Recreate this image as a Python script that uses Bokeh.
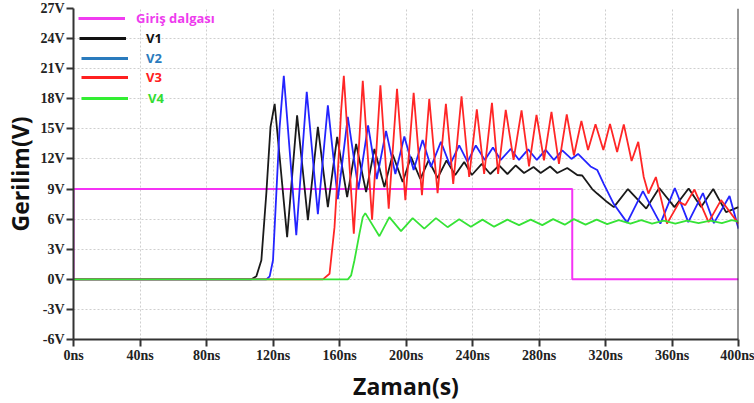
from bokeh.plotting import figure
from bokeh.models import Legend, LegendItem, FixedTicker, PrintfTickFormatter, Span, Range1d, Title
from bokeh.embed import file_html
from bokeh.resources import INLINE

# ---- data (time in ns, voltage in V) ----
x_ticks = [0, 40, 80, 120, 160, 200, 240, 280, 320, 360, 400]
y_ticks = [-6, -3, 0, 3, 6, 9, 12, 15, 18, 21, 24, 27]

giris_t = [0, 0, 300, 300, 400]
giris_v = [0, 9, 9, 0, 0]

v1_points = [(0, 0), (107, 0), (110, 0.3), (113, 1.9), (116, 8.6), (118.5, 15.2), (121, 17.5),
             (128.5, 4.2), (134.5, 16.35), (141, 5.9), (147, 15.2), (153, 7.2), (158.6, 14.2),
             (164.6, 8.2), (170, 13.5), (176, 8.7), (181, 13.0), (187, 9.2), (192, 12.45),
             (198, 9.7), (203, 12.2), (208.6, 10.0), (213.6, 11.85), (219, 10.1), (224.4, 11.85),
             (229.6, 10.4), (235, 11.7), (239.6, 10.4), (245.6, 11.5), (250.7, 10.5), (256, 11.35),
             (261, 10.5), (266, 11.35), (271, 10.6), (276.7, 11.2), (281, 10.6), (286.7, 11.25),
             (291, 10.6), (297, 11.1), (303, 10.4), (306, 10.35), (312, 9.0), (315, 8.55),
             (321, 7.7), (325, 7.2), (333.5, 9.0), (344.5, 7.05), (352.3, 9.1), (361.5, 7.2),
             (370, 9.05), (377.5, 7.2), (384.8, 9.0), (392.5, 6.7), (400, 7.2)]

v2_points = [(0, 0), (116, 0), (118, 0.3), (120, 1.9), (122, 8.55), (124, 15.2), (126.5, 20.3),
             (134, 4.4), (140.3, 18.7), (147, 6.5), (153, 17.35), (159, 8.0), (165, 16.2),
             (171.4, 9.0), (177.2, 15.35), (182.4, 10.0), (188, 14.8), (193.6, 10.5), (199, 14.25),
             (204.6, 10.9), (210, 13.9), (215, 11.2), (221, 13.7), (226.4, 11.4), (232, 13.35),
             (237, 11.7), (242, 13.35), (247.4, 11.9), (252.3, 13.15), (257, 11.9), (263, 13.0),
             (268, 11.9), (273.5, 12.95), (278.7, 11.9), (284, 12.9), (289, 11.9), (294, 12.85),
             (299.5, 12.0), (303.5, 12.5), (311, 11.25), (315, 10.9), (319, 9.5), (325, 7.5),
             (333, 5.65), (342.5, 8.8), (353, 5.55), (361.7, 9.1), (369.8, 5.7), (378.6, 8.6),
             (385.2, 5.6), (394.6, 8.3), (400, 5.05)]

v3_points = [(0, 0), (150, 0), (154, 0.55), (157, 5.2), (159.4, 11.9), (161, 16.85), (162.6, 20.3),
             (168.6, 4.55), (174, 19.8), (179.6, 5.95), (184.6, 19.35), (189.6, 7.05), (194.6, 19.0),
             (199.6, 7.9), (204.6, 18.6), (209.6, 8.4), (214, 18.0), (219, 8.6), (224, 17.5),
             (228.4, 9.5), (233.4, 18.25), (238, 10.2), (242.6, 16.95), (247, 10.5), (251.7, 17.6),
             (255.4, 10.5), (260, 16.9), (264.7, 11.9), (269.5, 16.85), (274, 11.25), (278.5, 16.4),
             (283, 11.85), (287.5, 16.7), (292, 11.5), (296.7, 16.45), (301, 12.35), (305.5, 15.8),
             (309.5, 12.9), (314, 15.45), (318.7, 12.9), (322.7, 15.5), (327, 12.7), (331, 15.45),
             (335.7, 11.8), (339.7, 13.7), (343, 10.2), (345.8, 8.55), (350.3, 10.2), (357, 5.55),
             (364.4, 7.7), (368, 7.4), (373.5, 8.95), (382, 5.7), (389.5, 7.9), (400, 5.55)]

v4_points = [(0, 0), (165, 0), (167, 0.4), (169, 1.9), (172, 4.55), (174, 6.2), (175.5, 6.6),
             (184, 4.3), (190, 6.2), (197, 4.8), (204, 6.1), (211, 5.05), (218, 6.1), (225, 5.2),
             (232, 6.0), (239, 5.25), (246, 5.95), (253, 5.25), (261, 5.95), (268, 5.4), (275, 5.95),
             (282, 5.4), (288.5, 6.0), (295.5, 5.45), (301, 6.0), (308, 5.45), (314.7, 5.95),
             (321, 5.5), (328, 5.9), (335, 5.55), (341.5, 5.9), (348, 5.55), (355, 5.85), (362, 5.55),
             (369, 5.85), (376, 5.6), (383, 5.85), (390, 5.6), (396, 5.9), (400, 5.75)]

legend_labels = ["Giriş dalgası", "V1", "V2", "V3", "V4"]

# ---- styling ----
C_MAG = "#f533f5"
C_V1 = "#1a1a1a"
C_V2 = "#2424ff"
C_V3 = "#ff2626"
C_V4 = "#36e336"
LEG_LINE = ["#f03cf0", "#111111", "#2a7bbd", "#ff2020", "#33ee33"]
LEG_TEXT = ["#ee3cee", "#111111", "#2a7bbd", "#ff2020", "#33dd33"]

LEFT, RIGHT, TOP, BOTTOM = 72, 16, 8, 64
W, H = 754, 403
FRAME_H = H - TOP - BOTTOM

p = figure(width=W, height=H, x_range=Range1d(0, 400), y_range=Range1d(-6, 27),
           output_backend="svg", toolbar_location=None,
           min_border_left=LEFT, min_border_right=RIGHT, min_border_top=TOP, min_border_bottom=BOTTOM)
p.outline_line_color = None
p.background_fill_color = "white"
p.border_fill_color = "white"

def unzip(pts):
    return [a for a, _ in pts], [b for _, b in pts]

p.line(giris_t, giris_v, line_color=C_MAG, line_width=2)
for pts, col in [(v1_points, C_V1), (v2_points, C_V2), (v3_points, C_V3), (v4_points, C_V4)]:
    t, v = unzip(pts)
    p.line(t, v, line_color=col, line_width=1.8)

# axes
for ax in (p.xaxis, p.yaxis):
    ax.axis_line_width = 2
    ax.axis_line_color = "#333333"
    ax.major_tick_line_width = 2
    ax.major_tick_line_color = "#333333"
    ax.major_tick_out = 7
    ax.major_tick_in = 0
    ax.minor_tick_line_color = None
    ax.major_label_text_font = "Liberation Serif"
    ax.major_label_text_font_style = "bold"
    ax.major_label_text_font_size = "14px"
    ax.major_label_text_color = "#222222"
p.xaxis.major_label_standoff = 1
p.yaxis.major_label_standoff = 2

p.xaxis.ticker = FixedTicker(ticks=x_ticks)
p.yaxis.ticker = FixedTicker(ticks=y_ticks)
p.xaxis.formatter = PrintfTickFormatter(format="%dns")
p.yaxis.formatter = PrintfTickFormatter(format="%dV")

# axis titles as side-panel titles
xt = Title(text="Zaman(s)", align="center", text_font="Open Sans", text_font_style="bold",
           text_font_size="23px", text_color="#111111", standoff=4, offset=-5)
yt = Title(text="Gerilim(V)", align="center", text_font="Open Sans", text_font_style="bold",
           text_font_size="23px", text_color="#111111", standoff=3)
p.add_layout(xt, "below")
p.add_layout(yt, "left")

p.xgrid.ticker = FixedTicker(ticks=x_ticks)
p.ygrid.ticker = FixedTicker(ticks=y_ticks)
for g in (p.xgrid, p.ygrid):
    g.grid_line_color = "#cfcfcf"
    g.grid_line_dash = "2 2"
    g.grid_line_width = 1

p.add_layout(Span(location=400, dimension="height", line_color="#333333", line_width=2))

# legend: one Legend per entry so each label gets its own colour
leg_rows_y = [19, 39, 59, 78, 99]      # page y of each entry centre
leg_x0 = [77, 78, 80, 80, 80]          # page x of line start
leg_standoff = [11, 20, 18, 18, 20]
nan = float("nan")
for i, lab in enumerate(legend_labels):
    dummy = p.line([nan], [nan], line_color=LEG_LINE[i], line_width=3)
    y_off = FRAME_H - (leg_rows_y[i] - TOP) - 8
    leg = Legend(items=[LegendItem(label=lab, renderers=[dummy])],
                 location=(leg_x0[i] - LEFT, y_off),
                 glyph_width=47, glyph_height=16, label_height=16,
                 label_standoff=leg_standoff[i], padding=0, margin=0, spacing=0,
                 border_line_color=None, background_fill_alpha=0,
                 label_text_color=LEG_TEXT[i], label_text_font="Open Sans",
                 label_text_font_style="bold", label_text_font_size="13px")
    p.add_layout(leg)

open("out.html", "w").write(file_html(p, INLINE))
